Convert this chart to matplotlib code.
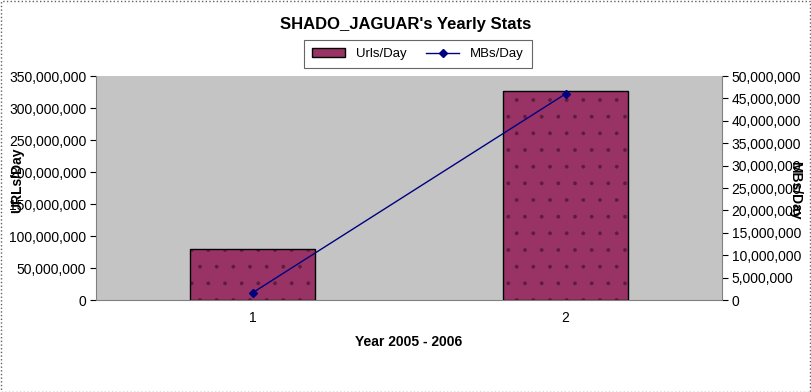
import matplotlib
matplotlib.use("Agg")
import matplotlib.pyplot as plt
from matplotlib.patches import Rectangle
from matplotlib.ticker import FuncFormatter, MultipleLocator

plt.rcParams['font.family'] = ['Liberation Sans', 'DejaVu Sans']
plt.rcParams['hatch.linewidth'] = 0.3

categories = ["1", "2"]
urls_per_day = [80000000, 327000000]
mbs_per_day = [1600000, 46000000]

fig = plt.figure(figsize=(8.12, 3.92), dpi=100)
ax = fig.add_axes([96/812, 1-300/392, 626/812, 224/392])
ax.set_facecolor('#c4c4c4')

x = list(range(len(categories)))
ax.bar(x, urls_per_day, width=0.4, color='#993366', edgecolor='#5c1d3d',
       linewidth=0, hatch='.', zorder=2)
bars = ax.bar(x, urls_per_day, width=0.4, facecolor='none', edgecolor='black',
              linewidth=1.0, zorder=2.1)
ax.set_xlim(-0.5, 1.5)
ax.set_ylim(0, 350000000)
ax.yaxis.set_major_locator(MultipleLocator(50000000))
fmt = FuncFormatter(lambda v, p: f"{int(v):,}")
ax.yaxis.set_major_formatter(fmt)
ax.set_xticks(x)
ax.set_xticklabels(categories)
ax.tick_params(labelsize=10, direction='in', length=0, pad=8)
ax.tick_params(axis='y', direction='out', length=4, pad=3)
for s in ['top', 'right']:
    ax.spines[s].set_visible(False)
ax.spines['left'].set_color('#808080')
ax.spines['bottom'].set_color('#808080')

ax2 = ax.twinx()
line, = ax2.plot(x, mbs_per_day, color='#000080', marker='D', markersize=4,
                 linewidth=1.0, label='MBs/Day', zorder=3)
ax2.set_ylim(0, 50000000)
ax2.yaxis.set_major_locator(MultipleLocator(5000000))
ax2.yaxis.set_major_formatter(fmt)
ax2.tick_params(labelsize=10, direction='out', length=4, pad=3)
for s in ['top', 'left', 'bottom']:
    ax2.spines[s].set_visible(False)
ax2.spines['right'].set_color('#808080')

fig.text(0.5, 1-25/392, "SHADO_JAGUAR's Yearly Stats", ha='center', va='center',
         fontsize=12, fontweight='bold')
fig.text(409/812, 1-342/392, "Year 2005 - 2006", ha='center', va='center',
         fontsize=10, fontweight='bold')
fig.text(17/812, 1-180/392, "URLs/Day", ha='center', va='center', rotation=90,
         fontsize=10, fontweight='bold')
fig.text(795/812, 1-190/392, "MBs/Day", ha='center', va='center', rotation=-90,
         fontsize=10, fontweight='bold')

bar_handle = Rectangle((0, 0), 1, 1, facecolor='#993366', edgecolor='black', linewidth=1.0)
leg = fig.legend(handles=[bar_handle, line], labels=['Urls/Day', 'MBs/Day'],
                 loc='center', bbox_to_anchor=(418/812, 1-54/392),
                 ncol=2, fontsize=9.5, frameon=True, fancybox=False, edgecolor='#404040',
                 handlelength=2.5, handleheight=0.6, columnspacing=1.5, borderpad=0.6)
leg.get_frame().set_linewidth(0.8)

fig.patches.append(Rectangle((0.001, 0.001), 0.997, 0.997, transform=fig.transFigure,
                             fill=False, edgecolor='#606060', linestyle=':', linewidth=1.0))

fig.savefig("out.png", dpi=100)
